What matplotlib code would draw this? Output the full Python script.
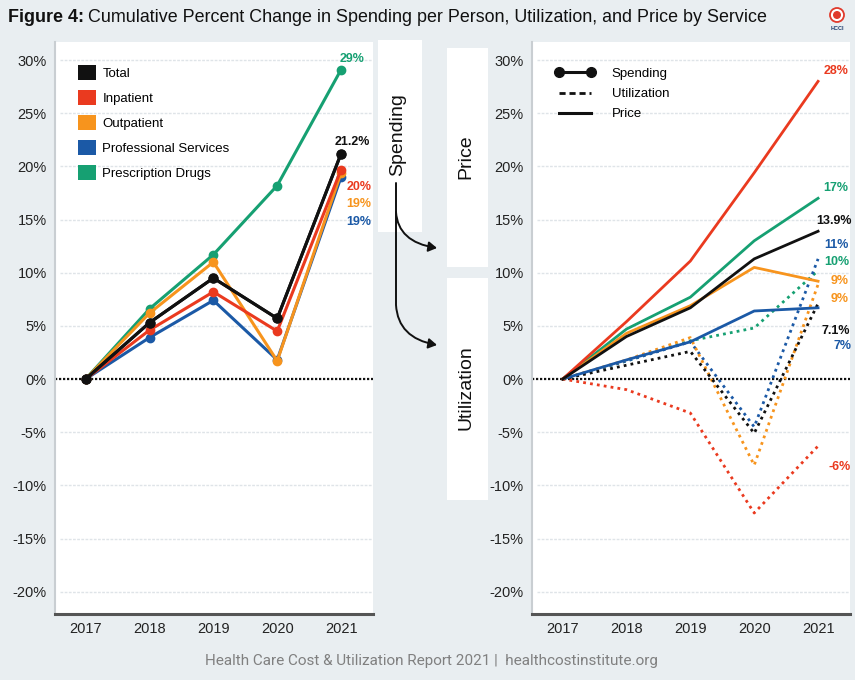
import matplotlib
matplotlib.use("Agg")
import matplotlib.pyplot as plt
from matplotlib.lines import Line2D
from matplotlib.patches import Patch, Rectangle, FancyArrowPatch, Circle
from matplotlib.path import Path

plt.rcParams['font.family'] = ['Liberation Sans', 'DejaVu Sans']

# ---- data (cumulative % change vs 2017) ----
years = [2017, 2018, 2019, 2020, 2021]
services = ["Total", "Inpatient", "Outpatient", "Professional Services", "Prescription Drugs"]

spend_total = [0, 5.3, 9.5, 5.7, 21.2]
spend_inpatient = [0, 4.6, 8.2, 4.5, 19.7]
spend_outpatient = [0, 6.2, 11.0, 1.7, 19.4]
spend_prof = [0, 3.9, 7.4, 1.8, 19.0]
spend_rx = [0, 6.6, 11.7, 18.2, 29.1]

price_total = [0, 4.0, 6.7, 11.3, 13.9]
price_inpatient = [0, 5.4, 11.1, 19.4, 28.0]
price_outpatient = [0, 4.3, 6.9, 10.5, 9.2]
price_prof = [0, 1.8, 3.5, 6.4, 6.7]
price_rx = [0, 4.7, 7.7, 13.0, 17.0]

util_total = [0, 1.3, 2.6, -5.1, 7.1]
util_inpatient = [0, -1.0, -3.2, -12.6, -6.3]
util_outpatient = [0, 1.8, 3.9, -8.1, 8.9]
util_prof = [0, 1.7, 3.5, -4.5, 11.3]
util_rx = [0, 1.7, 3.6, 4.8, 10.2]

spend_labels = ["21.2%", "20%", "19%", "19%", "29%"]
right_labels = ["28%", "17%", "13.9%", "11%", "10%", "9%", "9%", "7.1%", "7%", "-6%"]

yticks = [-20, -15, -10, -5, 0, 5, 10, 15, 20, 25, 30]

# ---- styles ----
BG = "#e9eef1"
C = {"Total": "#111111", "Inpatient": "#ea3a1f", "Outpatient": "#f7941d",
     "Professional Services": "#1b59a6", "Prescription Drugs": "#16a072"}
W, H = 855, 680


def style_axes(ax):
    ax.set_facecolor("white")
    ax.set_xlim(2016.52, 2021.5)
    ax.set_ylim(-22.1, 31.7)
    ax.set_yticks(yticks)
    ax.set_yticklabels([f"{v}%" for v in yticks])
    ax.set_xticks(years)
    ax.set_xticklabels([str(y) for y in years])
    ax.tick_params(length=0, labelsize=10.5, colors="#222222", pad=6)
    for v in yticks:
        if v != 0:
            ax.axhline(v, color="#dfe4e8", lw=1.0, ls=(0, (2, 1)), zorder=0,
                       xmin=0.015)
    ax.axhline(0, color="#111111", lw=1.6, ls=(0, (1, 0.8)), zorder=1)
    for s in ("top", "right"):
        ax.spines[s].set_visible(False)
    ax.spines["left"].set_color("#c9ced2")
    ax.spines["left"].set_linewidth(1.5)
    ax.spines["bottom"].set_color("#555555")
    ax.spines["bottom"].set_linewidth(2.2)


fig = plt.figure(figsize=(W / 100, H / 100), dpi=100, facecolor=BG)

# ---- overlay for boxes and arrows (pixel coords) ----
ov = fig.add_axes([0, 0, 1, 1], zorder=0)
ov.set_xlim(0, W)
ov.set_ylim(H, 0)
ov.axis("off")
for (x0, y0, x1, y1) in [(378, 40, 422, 232), (447, 48, 488, 267), (447, 278, 488, 500)]:
    ov.add_patch(Rectangle((x0, y0), x1 - x0, y1 - y0, facecolor="white", edgecolor="none"))
ov.text(398, 135, "Spending", rotation=90, ha="center", va="center", fontsize=14, color="#111")
ov.text(466, 157, "Price", rotation=90, ha="center", va="center", fontsize=14, color="#111")
ov.text(466, 388, "Utilization", rotation=90, ha="center", va="center", fontsize=14, color="#111")
arrow_kw = dict(arrowstyle="-|>,head_length=5,head_width=3", color="#111", lw=1.4,
                mutation_scale=1, shrinkA=0, shrinkB=0)
p1 = Path([(396, 183), (396, 305), (398, 338), (437, 345)],
          [Path.MOVETO, Path.LINETO, Path.CURVE3, Path.CURVE3])
p2 = Path([(396, 212), (398, 242), (437, 248)],
          [Path.MOVETO, Path.CURVE3, Path.CURVE3])
ov.add_patch(FancyArrowPatch(path=p1, **arrow_kw))
ov.add_patch(FancyArrowPatch(path=p2, **arrow_kw))

# logo
ov.add_patch(Circle((837, 15), 7, facecolor="white", edgecolor="#e03a2c", lw=1.3))
ov.add_patch(Circle((837, 15), 4, facecolor="#e03a2c", edgecolor="none"))
ov.text(837, 29, "HCCI", ha="center", va="center", fontsize=4, color="#1b3a6b", weight="bold")

# ---- left panel: spending ----
axL = fig.add_axes([55 / W, 66 / H, 318 / W, 572 / H], zorder=1)
style_axes(axL)
spend = [spend_total, spend_inpatient, spend_outpatient, spend_prof, spend_rx]
for name, vals in reversed(list(zip(services, spend))):
    axL.plot(years, vals, color=C[name], lw=2.2, marker="o", ms=6, zorder=3,
             solid_capstyle="round")
axL.plot(years, spend_total, color=C["Total"], lw=2.2, marker="o", ms=6.5, zorder=4)

lab_pos_L = [(2021.17, 22.3), (2021.28, 18.1), (2021.28, 16.5), (2021.28, 14.8), (2021.17, 30.1)]
for name, txt, (x, y) in zip(services, spend_labels, lab_pos_L):
    axL.text(x, y, txt, color=C[name], fontsize=9, weight="bold", ha="center",
             va="center", clip_on=False, zorder=5)

handles = [Patch(facecolor=C[s], edgecolor="none") for s in services]
axL.legend(handles, services, loc="upper left", bbox_to_anchor=(0.072, 0.96),
           frameon=False, fontsize=9.5, handlelength=1.4, handleheight=1.4,
           handletextpad=0.45, labelspacing=0.74, borderpad=0, borderaxespad=0)

# ---- right panel: price and utilization ----
axR = fig.add_axes([532 / W, 66 / H, 318 / W, 572 / H], zorder=1)
style_axes(axR)
util = [util_total, util_inpatient, util_outpatient, util_prof, util_rx]
price = [price_total, price_inpatient, price_outpatient, price_prof, price_rx]
for name, vals in reversed(list(zip(services, util))):
    axR.plot(years, vals, color=C[name], lw=2.0, ls=(0, (1, 1.5)), zorder=3)
for name, vals in reversed(list(zip(services, price))):
    axR.plot(years, vals, color=C[name], lw=2.0, zorder=4)

lab_colors_R = [C["Inpatient"], C["Prescription Drugs"], C["Total"], C["Professional Services"],
                C["Prescription Drugs"], C["Outpatient"], C["Outpatient"], C["Total"],
                C["Professional Services"], C["Inpatient"]]
lab_pos_R = [(2021.28, 29.0), (2021.28, 18.0), (2021.25, 14.9), (2021.28, 12.6),
             (2021.3, 11.0), (2021.33, 9.2), (2021.33, 7.5), (2021.28, 4.5),
             (2021.39, 3.1), (2021.33, -8.3)]
for txt, col, (x, y) in zip(right_labels, lab_colors_R, lab_pos_R):
    axR.text(x, y, txt, color=col, fontsize=9, weight="bold", ha="center",
             va="center", clip_on=False, zorder=5)

r_handles = [Line2D([], [], color="#111", lw=2.2, marker="o", ms=7),
             Line2D([], [], color="#111", lw=2.0, ls=(0, (2.2, 1.4))),
             Line2D([], [], color="#111", lw=2.2)]
axR.legend(r_handles, ["Spending", "Utilization", "Price"], loc="upper left",
           bbox_to_anchor=(0.072, 0.955), frameon=False, fontsize=9.5, numpoints=2,
           handlelength=3.0, handletextpad=1.3, labelspacing=0.6, borderpad=0,
           borderaxespad=0)

# ---- title and footer ----
t1 = fig.text(8 / W, 1 - 18 / H, "Figure 4:", fontsize=12.9, weight="bold", va="center", color="#111")
fig.canvas.draw()
bb = t1.get_window_extent(fig.canvas.get_renderer())
fig.text((bb.x1 + 4) / W, 1 - 18 / H,
         "Cumulative Percent Change in Spending per Person, Utilization, and Price by Service",
         fontsize=12.9, va="center", color="#111")
fig.text(431 / W, 1 - 661 / H, "Health Care Cost & Utilization Report 2021 |  healthcostinstitute.org",
         ha="center", va="center", fontsize=11, color="#808080", family=["Roboto", "DejaVu Sans"])

fig.savefig("out.png", dpi=100, facecolor=BG)
